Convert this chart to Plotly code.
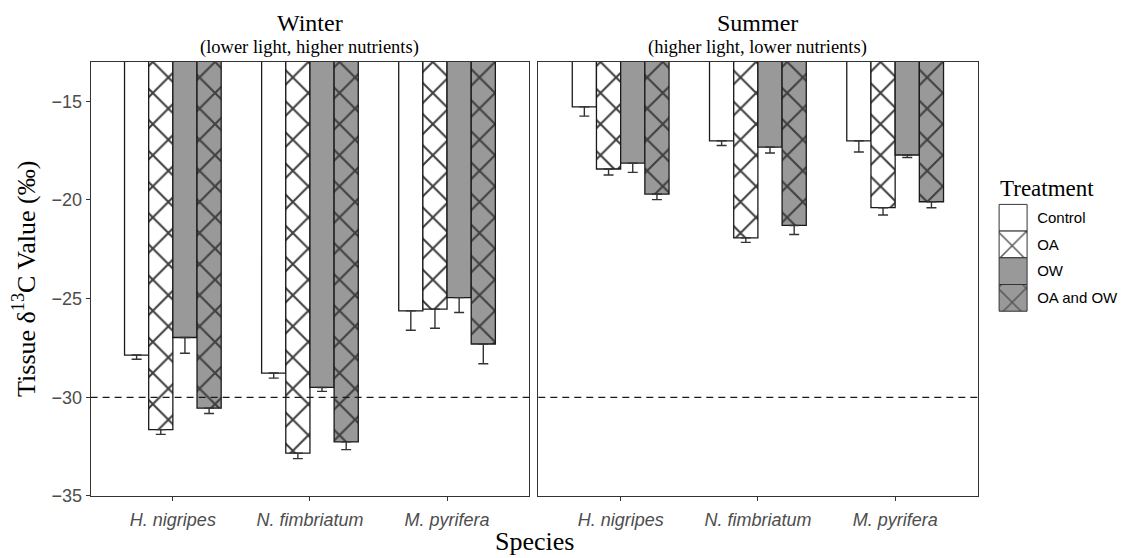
import plotly.graph_objects as go

# ---------------- data ----------------
species = ["H. nigripes", "N. fimbriatum", "M. pyrifera"]
treatments = ["Control", "OA", "OW", "OA and OW"]
seasons = ["Winter", "Summer"]
season_notes = ["(lower light, higher nutrients)", "(higher light, lower nutrients)"]

winter_control = [-27.86, -28.77, -25.62]
winter_oa = [-31.64, -32.83, -25.53]
winter_ow = [-26.97, -29.50, -24.95]
winter_oaow = [-30.55, -32.26, -27.30]

winter_control_se = [0.21, 0.26, 0.98]
winter_oa_se = [0.24, 0.28, 0.97]
winter_ow_se = [0.80, 0.20, 0.75]
winter_oaow_se = [0.27, 0.39, 1.00]

summer_control = [-15.28, -17.00, -17.00]
summer_oa = [-18.43, -21.92, -20.39]
summer_ow = [-18.13, -17.32, -17.72]
summer_oaow = [-19.70, -21.29, -20.09]

summer_control_se = [0.47, 0.24, 0.57]
summer_oa_se = [0.30, 0.23, 0.37]
summer_ow_se = [0.47, 0.30, 0.13]
summer_oaow_se = [0.28, 0.46, 0.30]

threshold = -30
y_ticks = [-35, -30, -25, -20, -15]
legend_key_value = 1

# ---------------- styles ----------------
fills = {"Control": "#ffffff", "OA": "#ffffff", "OW": "#999999", "OA and OW": "#999999"}
hatch = {"Control": "", "OA": "x", "OW": "", "OA and OW": "x"}
SERIF = "Liberation Serif, Times New Roman, serif"
SANS = "Liberation Sans, Arial, sans-serif"
FRAME = "#333333"
W, H = 1121, 558

season_data = {
    "Winter": ([winter_control, winter_oa, winter_ow, winter_oaow],
               [winter_control_se, winter_oa_se, winter_ow_se, winter_oaow_se]),
    "Summer": ([summer_control, summer_oa, summer_ow, summer_oaow],
               [summer_control_se, summer_oa_se, summer_ow_se, summer_oaow_se]),
}

fig = go.Figure()

for si, season in enumerate(seasons):
    means, ses = season_data[season]
    xa = "x" if si == 0 else "x2"
    ya = "y" if si == 0 else "y2"
    for t, m, e in zip(treatments, means, ses):
        fig.add_trace(go.Bar(
            x=species, y=m, name=t, xaxis=xa, yaxis=ya, showlegend=False,
            marker=dict(
                color=fills[t],
                line=dict(color="#1a1a1a", width=1.3),
                pattern=dict(shape=hatch[t], fgcolor="#404040", bgcolor=fills[t],
                             size=22, solidity=0.18, fillmode="replace"),
            ),
            error_y=dict(type="data", symmetric=False, array=[0] * len(e), arrayminus=e,
                         color="#333333", thickness=1.4, width=5),
            hoverinfo="skip",
        ))

# legend keys drawn as a small horizontal bar chart (one bar per treatment)
for t in treatments:
    fig.add_trace(go.Bar(
        x=[legend_key_value], y=[t], orientation="h", width=1, offset=-0.5,
        xaxis="x3", yaxis="y3", showlegend=False, hoverinfo="skip",
        marker=dict(
            color=fills[t],
            line=dict(color="#333333", width=1),
            pattern=dict(shape=hatch[t], fgcolor="#555555", bgcolor=fills[t],
                         size=20, solidity=0.14, fillmode="replace"),
        ),
    ))

# panel geometry (pixels)
left_x0, left_x1 = 90.6, 529.3
right_x0, right_x1 = 538.3, 977.5
top_y, bot_y = 63, 505
ydom = [1 - bot_y / H, 1 - top_y / H]

axis_common = dict(showgrid=False, zeroline=False, showline=True, mirror=True,
                   linecolor=FRAME, linewidth=1.1)

fig.update_layout(
    width=W, height=H,
    margin=dict(l=0, r=0, t=0, b=0),
    paper_bgcolor="white", plot_bgcolor="white",
    barmode="group", bargap=0.295, bargroupgap=0,
    showlegend=False,
    xaxis=dict(domain=[left_x0 / W, left_x1 / W], anchor="y", range=[-0.6, 2.6],
               ticks="outside", ticklen=4, tickcolor=FRAME, tickwidth=1.1,
               ticklabelstandoff=3,
               tickfont=dict(family=SANS, size=18, color="#4d4d4d", style="italic"),
               **axis_common),
    xaxis2=dict(domain=[right_x0 / W, right_x1 / W], anchor="y2", range=[-0.6, 2.6],
                ticks="outside", ticklen=4, tickcolor=FRAME, tickwidth=1.1,
                ticklabelstandoff=3,
                tickfont=dict(family=SANS, size=18, color="#4d4d4d", style="italic"),
                **axis_common),
    yaxis=dict(domain=ydom, anchor="x", range=[-35, -13], tickvals=y_ticks,
               ticks="outside", ticklen=4, tickcolor=FRAME, tickwidth=1.1,
               tickfont=dict(family=SANS, size=18, color="#4d4d4d"),
               **axis_common),
    yaxis2=dict(domain=ydom, anchor="x2", range=[-35, -13], matches="y",
                showticklabels=False, ticks="", **axis_common),
    xaxis3=dict(domain=[998 / W, 1028.2 / W], anchor="y3", range=[-0.04, 1.04],
                visible=False, fixedrange=True),
    yaxis3=dict(domain=[1 - 318 / H, 1 - 207 / H], anchor="x3", range=[3.54, -0.54],
                type="category", categoryorder="array", categoryarray=treatments,
                side="right", showgrid=False, zeroline=False, showline=False, ticks="",
                ticklabelstandoff=8,
                tickfont=dict(family=SANS, size=15, color="black")),
)

# dashed threshold line in each panel
for xa, ya in (("x", "y"), ("x2", "y2")):
    fig.add_shape(type="line", xref=f"{xa} domain", yref=ya, x0=0, x1=1,
                  y0=threshold, y1=threshold,
                  line=dict(color="#1a1a1a", width=1.2, dash="7px,5px"), layer="above")

# facet titles
centers = [(left_x0 + left_x1) / 2 / W, (right_x0 + right_x1) / 2 / W]
for cx, season, note in zip(centers, seasons, season_notes):
    fig.add_annotation(text=season, x=cx, y=1 - 23 / H, xref="paper", yref="paper",
                       xanchor="center", yanchor="middle", showarrow=False,
                       font=dict(family=SERIF, size=24, color="black"))
    fig.add_annotation(text=note, x=cx, y=1 - 48 / H, xref="paper", yref="paper",
                       xanchor="center", yanchor="middle", showarrow=False,
                       font=dict(family=SERIF, size=18.5, color="black"))

# axis titles
fig.add_annotation(text="Species", x=(left_x0 + right_x1) / 2 / W, y=0,
                   xref="paper", yref="paper", xanchor="center", yanchor="bottom",
                   yshift=-10, showarrow=False,
                   font=dict(family=SERIF, size=26, color="black"))
fig.add_annotation(text="Tissue δ<sup>13</sup>C Value (‰)", x=25 / W,
                   y=1 - (top_y + bot_y) / 2 / H, xref="paper", yref="paper",
                   xanchor="center", yanchor="middle", textangle=-90, showarrow=False,
                   font=dict(family=SERIF, size=26, color="black"))

# legend title
fig.add_annotation(text="Treatment", x=998 / W, y=1 - 192 / H, xref="paper", yref="paper",
                   xanchor="left", yanchor="middle", showarrow=False,
                   font=dict(family=SERIF, size=23, color="black"))

fig.write_html("out.html")
